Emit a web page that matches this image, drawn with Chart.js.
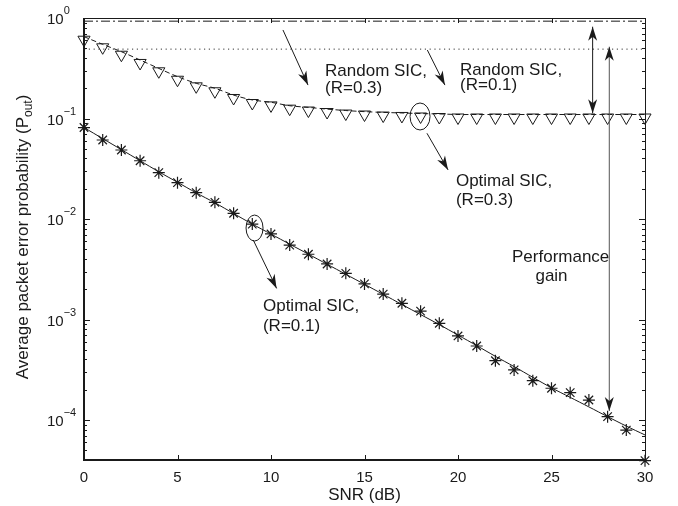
<!DOCTYPE html>
<html>
<head>
<meta charset="utf-8">
<script src="https://cdn.jsdelivr.net/npm/chart.js@4.4.1/dist/chart.umd.min.js"></script>
<style>
  html, body { margin: 0; padding: 0; background: #fff; }
</style>
</head>
<body>
<canvas id="perChart" width="678" height="506"></canvas>
<script>
// SNR (dB) axis
const snr = [0, 1, 2, 3, 4, 5, 6, 7, 8, 9, 10, 11, 12, 13, 14, 15, 16, 17, 18, 19, 20,
             21, 22, 23, 24, 25, 26, 27, 28, 29, 30];

// Optimal SIC, R=0.1 (simulation markers and analytic curve)
const optimalR01Sim = [0.0813, 0.0611, 0.0486, 0.038, 0.0289, 0.023, 0.0183, 0.01466, 0.0114, 0.0089,
                       0.0071, 0.0055, 0.00446, 0.00357, 0.00288, 0.00226, 0.00179, 0.00145, 0.00121, 0.000917,
                       0.000686, 0.000545, 0.000389, 0.000315, 0.000246, 0.000207, 0.000187, 0.000158, 0.000108, 0.0000794,
                       0.0000394];
const optimalR01Theory = [0.0813, 0.0631, 0.049, 0.038, 0.0295, 0.0232, 0.0182, 0.0145, 0.01135, 0.0089,
                          0.00708, 0.00562, 0.00447, 0.00355, 0.00282, 0.00224, 0.00178, 0.00141, 0.00112, 0.00089,
                          0.0007, 0.00055, 0.00043, 0.00034, 0.000266, 0.000209, 0.000168, 0.000135, 0.000108, 0.000087,
                          0.000071];

// Optimal SIC, R=0.3
const optimalR03Sim = [0.608, 0.511, 0.431, 0.357, 0.295, 0.243, 0.209, 0.1866, 0.16, 0.1426,
                       0.135, 0.1253, 0.12, 0.116, 0.112, 0.1096, 0.107, 0.106, 0.1047, 0.1035,
                       0.1023, 0.1023, 0.1023, 0.1023, 0.1023, 0.1023, 0.1023, 0.1023, 0.1023, 0.1023,
                       0.1023];
const optimalR03Theory = [0.652, 0.547, 0.462, 0.382, 0.315, 0.261, 0.224, 0.2, 0.171, 0.153,
                          0.145, 0.134, 0.129, 0.124, 0.12, 0.117, 0.115, 0.1135, 0.112, 0.111,
                          0.1096, 0.1096, 0.1096, 0.1096, 0.1096, 0.1096, 0.1096, 0.1096, 0.1096, 0.1096,
                          0.1096];

// Random SIC (flat)
const randomSnr = [0, 30];
const randomR01 = [0.93, 0.93];
const randomR03 = [0.49, 0.49];

// tick labels
const xTicks = [0, 5, 10, 15, 20, 25, 30];
const yTicks = [1, 0.1, 0.01, 0.001, 0.0001];
const yTickExps = ['0', '\u22121', '\u22122', '\u22123', '\u22124'];

const xTitle = 'SNR (dB)';
const yTitleMain = 'Average packet error probability (P';
const yTitleSub = 'out';

// annotations, in data coordinates
const notes = [
  { x: 12.89, y: 0.265, text: 'Random SIC,' },
  { x: 12.89, y: 0.1794, text: '(R=0.3)' },
  { x: 20.11, y: 0.271, text: 'Random SIC,' },
  { x: 20.11, y: 0.192, text: '(R=0.1)' },
  { x: 19.89, y: 0.0213, text: 'Optimal SIC,' },
  { x: 19.89, y: 0.01378, text: '(R=0.3)' },
  { x: 9.57, y: 0.001216, text: 'Optimal SIC,' },
  { x: 9.57, y: 0.000769, text: '(R=0.1)' },
  { x: 25.49, y: 0.00376, text: 'Performance', align: 'center' },
  { x: 25.0, y: 0.00242, text: 'gain', align: 'center' }
];
const arrows = [
  { x1: 10.64, y1: 0.76, x2: 11.98, y2: 0.215 },
  { x1: 18.36, y1: 0.48, x2: 19.3, y2: 0.215 },
  { x1: 18.34, y1: 0.0713, x2: 19.47, y2: 0.0308 },
  { x1: 9.05, y1: 0.00618, x2: 10.3, y2: 0.00204 },
  { x1: 27.2, y1: 0.1127, x2: 27.2, y2: 0.819, both: true },
  { x1: 28.09, y1: 0.000123, x2: 28.09, y2: 0.518, both: true, color: '#555' }
];
const ellipses = [
  { x: 17.97, y: 0.1047, rx: 10, ry: 13.5 },
  { x: 9.12, y: 0.00813, rx: 8.5, ry: 13 }
];

const FONT = '"Liberation Sans", Arial, Helvetica, sans-serif';
const INK = '#1a1a1a';

function toXY(values) {
  return values.map((v, i) => ({ x: snr[i], y: v }));
}

function drawHead(ctx, xt, yt, xf, yf) {
  const ang = Math.atan2(yt - yf, xt - xf);
  const len = 14, half = 4.5, notch = 4;
  ctx.save();
  ctx.translate(xt, yt);
  ctx.rotate(ang);
  ctx.beginPath();
  ctx.moveTo(0, 0);
  ctx.lineTo(-len, -half);
  ctx.lineTo(-len + notch, 0);
  ctx.lineTo(-len, half);
  ctx.closePath();
  ctx.fill();
  ctx.restore();
}

const matlabAxes = {
  id: 'matlabAxes',
  afterDatasetsDraw(chart) {
    const ctx = chart.ctx;
    const a = chart.chartArea;
    const xs = chart.scales.x;
    const ys = chart.scales.y;
    ctx.save();
    ctx.strokeStyle = INK;
    ctx.fillStyle = INK;

    // box
    ctx.lineWidth = 1;
    ctx.strokeRect(a.left + 0.5, a.top + 0.5, a.right - a.left, a.bottom - a.top);
    ctx.lineWidth = 2;
    ctx.beginPath();
    ctx.moveTo(a.left, a.top);
    ctx.lineTo(a.left, a.bottom);
    ctx.lineTo(a.right + 1, a.bottom);
    ctx.stroke();

    // x ticks
    ctx.lineWidth = 1;
    ctx.beginPath();
    xTicks.forEach(t => {
      const px = Math.round(xs.getPixelForValue(t)) + 0.5;
      ctx.moveTo(px, a.bottom); ctx.lineTo(px, a.bottom - 5);
      ctx.moveTo(px, a.top); ctx.lineTo(px, a.top + 5);
    });
    // y ticks (major + minor)
    for (let e = -5; e <= 0; e++) {
      for (let m = 1; m <= 9; m++) {
        const v = m * Math.pow(10, e);
        if (v < ys.min || v > ys.max) continue;
        const py = Math.round(ys.getPixelForValue(v)) + 0.5;
        const len = m === 1 ? 6 : 3;
        ctx.moveTo(a.left, py); ctx.lineTo(a.left + len, py);
        ctx.moveTo(a.right, py); ctx.lineTo(a.right - len, py);
      }
    }
    ctx.stroke();

    // x tick labels
    ctx.font = '15px ' + FONT;
    ctx.textAlign = 'center';
    ctx.textBaseline = 'alphabetic';
    xTicks.forEach(t => {
      ctx.fillText(String(t), xs.getPixelForValue(t), 482);
    });
    ctx.font = '17px ' + FONT;
    ctx.fillText(xTitle, (a.left + a.right) / 2, 500);

    // y tick labels 10^k
    ctx.textAlign = 'left';
    yTicks.forEach((t, i) => {
      const py = ys.getPixelForValue(t);
      ctx.font = '15px ' + FONT;
      ctx.fillText('10', 47, py + 6);
      const w = ctx.measureText('10').width;
      ctx.font = '11px ' + FONT;
      ctx.fillText(yTickExps[i], 47 + w, py - 4);
    });

    // y title with subscript
    ctx.save();
    ctx.translate(28, 237);
    ctx.rotate(-Math.PI / 2);
    ctx.font = '17px ' + FONT;
    const w1 = ctx.measureText(yTitleMain).width;
    const w3 = ctx.measureText(')').width;
    ctx.font = '12px ' + FONT;
    const w2 = ctx.measureText(yTitleSub).width;
    const x0 = -(w1 + w2 + w3) / 2;
    ctx.font = '17px ' + FONT;
    ctx.fillText(yTitleMain, x0, 0);
    ctx.font = '12px ' + FONT;
    ctx.fillText(yTitleSub, x0 + w1, 4);
    ctx.font = '17px ' + FONT;
    ctx.fillText(')', x0 + w1 + w2, 0);
    ctx.restore();

    // annotations
    ctx.font = '17px ' + FONT;
    notes.forEach(n => {
      ctx.textAlign = n.align || 'left';
      ctx.fillText(n.text, xs.getPixelForValue(n.x), ys.getPixelForValue(n.y));
    });
    ctx.lineWidth = 1;
    ellipses.forEach(el => {
      ctx.beginPath();
      ctx.ellipse(xs.getPixelForValue(el.x), ys.getPixelForValue(el.y), el.rx, el.ry, 0, 0, Math.PI * 2);
      ctx.stroke();
    });
    arrows.forEach(ar => {
      const x1 = xs.getPixelForValue(ar.x1), y1 = ys.getPixelForValue(ar.y1);
      const x2 = xs.getPixelForValue(ar.x2), y2 = ys.getPixelForValue(ar.y2);
      ctx.strokeStyle = ar.color || INK;
      ctx.beginPath();
      ctx.moveTo(x1, y1); ctx.lineTo(x2, y2);
      ctx.stroke();
      ctx.fillStyle = INK;
      drawHead(ctx, x2, y2, x1, y1);
      if (ar.both) drawHead(ctx, x1, y1, x2, y2);
    });
    ctx.restore();
  }
};

new Chart(document.getElementById('perChart'), {
  type: 'line',
  data: {
    datasets: [
      {
        label: 'Random SIC, R=0.1',
        data: randomSnr.map((s, i) => ({ x: s, y: randomR01[i] })),
        borderColor: INK, borderWidth: 1, borderDash: [9, 3, 2, 3],
        pointRadius: 0
      },
      {
        label: 'Random SIC, R=0.3',
        data: randomSnr.map((s, i) => ({ x: s, y: randomR03[i] })),
        borderColor: '#333', borderWidth: 1, borderDash: [1.2, 3.6],
        pointRadius: 0
      },
      {
        label: 'Optimal SIC, R=0.3 (analysis)',
        data: toXY(optimalR03Theory),
        borderColor: INK, borderWidth: 1, borderDash: [5, 3],
        pointRadius: 0, tension: 0.3
      },
      {
        label: 'Optimal SIC, R=0.3 (simulation)',
        data: toXY(optimalR03Sim),
        showLine: false,
        pointStyle: 'triangle', pointRotation: 180, pointRadius: 7,
        pointBorderColor: INK, pointBackgroundColor: 'rgba(0,0,0,0)', pointBorderWidth: 1,
        clip: false
      },
      {
        label: 'Optimal SIC, R=0.1 (analysis)',
        data: toXY(optimalR01Theory),
        borderColor: INK, borderWidth: 1,
        pointRadius: 0, tension: 0.3
      },
      {
        label: 'Optimal SIC, R=0.1 (simulation)',
        data: toXY(optimalR01Sim),
        showLine: false,
        pointStyle: 'star', pointRadius: 6,
        pointBorderColor: INK, pointBorderWidth: 1.2,
        clip: false
      }
    ]
  },
  options: {
    responsive: false,
    animation: false,
    devicePixelRatio: 1,
    layout: { autoPadding: false, padding: { left: 84, right: 33, top: 18, bottom: 46 } },
    plugins: { legend: { display: false }, tooltip: { enabled: false } },
    scales: {
      x: { type: 'linear', min: 0, max: 30, display: false },
      y: { type: 'logarithmic', min: 0.00004, max: 1, display: false }
    }
  },
  plugins: [matlabAxes]
});
</script>
</body>
</html>
